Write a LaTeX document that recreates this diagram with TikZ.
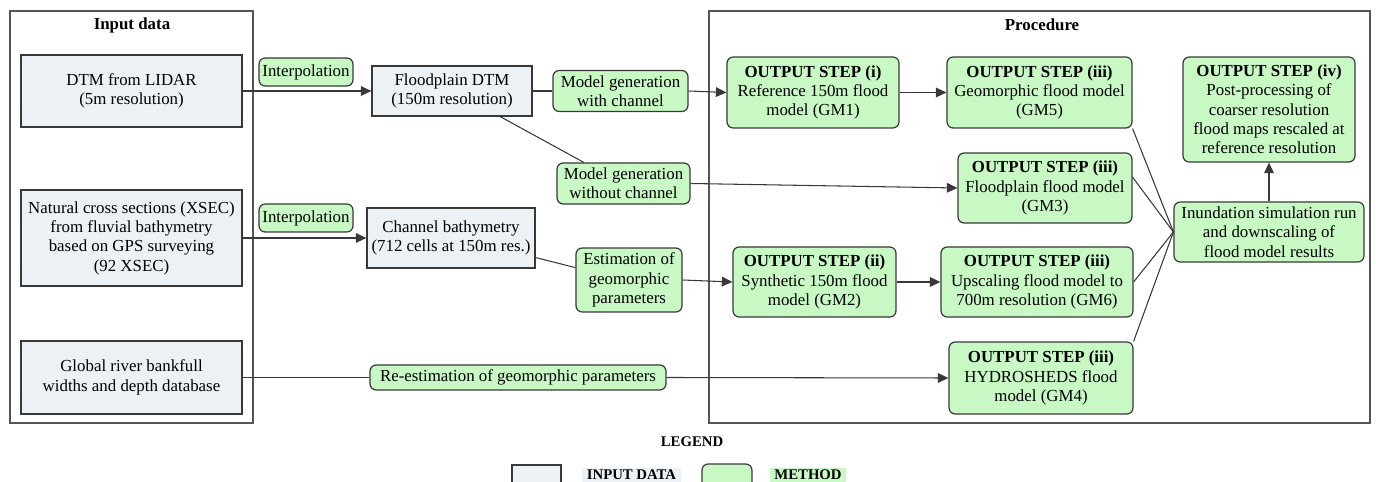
\documentclass[tikz,border=0pt]{standalone}
\usepackage{fontspec}
\setmainfont{Liberation Serif}
\usetikzlibrary{arrows.meta, positioning}
\definecolor{FLDinput}{HTML}{EBF1F5}
\definecolor{FLDmethod}{HTML}{C8F8C4}
\definecolor{FLDline}{HTML}{383838}
\definecolor{FLDframe}{HTML}{555555}

\begin{document}
\begin{tikzpicture}[x=0.02cm, y=-0.02cm,
   font=\fontsize{9.6}{11}\selectfont,
   inbox/.style={draw=FLDline, fill=FLDinput, line width=0.7pt, align=center, inner sep=1pt},
   method/.style={draw=FLDline, fill=FLDmethod, line width=0.7pt, rounded corners=3.5pt, align=center, inner sep=1pt},
   link/.style={draw=FLDline, line width=0.6pt},
   flow/.style={link, -{Triangle[length=6pt, width=5.5pt]}},
   frame/.style={draw=FLDframe, line width=0.8pt},
   title/.style={font=\fontsize{9.6}{11}\selectfont\bfseries},
   legendtxt/.style={font=\fontsize{8.4}{10}\selectfont\bfseries, inner xsep=2.5pt, inner ysep=1pt}]
      \useasboundingbox (0,0) rectangle (1376,482);
      % Frames
      \draw[frame] (10,11) rectangle (253,423);
      \draw[frame] (709,11) rectangle (1370,423);
      \node[title] (intitle) at (132,25) {Input data};
      \node[title] (proctitle) at (1042,25) {Procedure};
      % Input data
      \node[inbox, minimum width=4.42cm, minimum height=1.44cm] (dtm) at (131.5,91)
         {DTM from LIDAR\\(5m resolution)};
      \node[inbox, minimum width=4.42cm, minimum height=1.92cm] (xsec) at (131.5,238)
         {Natural cross sections (XSEC)\\from fluvial bathymetry\\based on GPS surveying\\(92 XSEC)};
      \node[inbox, minimum width=4.42cm, minimum height=1.46cm] (glob) at (131.5,377.5)
         {Global river bankfull\\widths and depth database};
      % Intermediate data
      \node[inbox, minimum width=3.2cm, minimum height=1.0cm] (fpdtm) at (452,91)
         {Floodplain DTM\\(150m resolution)};
      \node[inbox, minimum width=3.36cm, minimum height=1.2cm] (chbath) at (451,238)
         {Channel bathymetry\\(712 cells at 150m res.)};
      % Methods
      \node[method, minimum width=1.88cm, minimum height=0.56cm] (interpa) at (306,72) {Interpolation};
      \node[method, minimum width=1.88cm, minimum height=0.56cm] (interpb) at (306,218) {Interpolation};
      \node[method, minimum width=2.7cm, minimum height=0.82cm] (mgwith) at (620.5,91)
         {Model generation\\with channel};
      \node[method, minimum width=2.66cm, minimum height=0.82cm] (mgwithout) at (623.5,183.5)
         {Model generation\\without channel};
      \node[method, minimum width=2.12cm, minimum height=1.28cm] (estim) at (629,280)
         {Estimation of\\geomorphic\\parameters};
      \node[method, minimum width=5.92cm, minimum height=0.5cm] (reest) at (518,377.5)
         {Re-estimation of geomorphic parameters};
      % Output steps
      \node[method, minimum width=3.44cm, minimum height=1.42cm] (gmone) at (813,92.5)
         {\textbf{OUTPUT STEP (i)}\\Reference 150m flood\\model (GM1)};
      \node[method, minimum width=3.26cm, minimum height=1.4cm] (gmtwo) at (814.5,282)
         {\textbf{OUTPUT STEP (ii)}\\Synthetic 150m flood\\model (GM2)};
      \node[method, minimum width=3.7cm, minimum height=1.42cm] (gmfive) at (1039.5,92.5)
         {\textbf{OUTPUT STEP (iii)}\\Geomorphic flood model\\(GM5)};
      \node[method, minimum width=3.48cm, minimum height=1.4cm] (gmthree) at (1045,188)
         {\textbf{OUTPUT STEP (iii)}\\Floodplain flood model\\(GM3)};
      \node[method, minimum width=3.84cm, minimum height=1.4cm] (gmsix) at (1037,282)
         {\textbf{OUTPUT STEP (iii)}\\Upscaling flood model to\\700m resolution (GM6)};
      \node[method, minimum width=3.68cm, minimum height=1.44cm] (gmfour) at (1041,378)
         {\textbf{OUTPUT STEP (iii)}\\HYDROSHEDS flood\\model (GM4)};
      \node[method, minimum width=3.44cm, minimum height=2.1cm] (post) at (1269,109.5)
         {\textbf{OUTPUT STEP (iv)}\\Post-processing of\\coarser resolution\\flood maps rescaled at\\reference resolution};
      \node[method, minimum width=3.8cm, minimum height=1.2cm] (inund) at (1269,232)
         {Inundation simulation run\\and downscaling of\\flood model results};
      % Connectors
      \draw[flow] (dtm.east) -- (fpdtm.west);
      \draw[flow] (xsec.east) -- (chbath.west);
      \draw[link] (glob.east) -- (reest.west);
      \draw[flow] (reest.east) -- (gmfour.west);
      \draw[link] (fpdtm.east) -- (mgwith.west);
      \draw[flow] (mgwith.east) -- (gmone.west);
      \draw[link] (fpdtm.-28.5) -- (mgwithout.152);
      \draw[flow] (mgwithout.east) -- (gmthree.west);
      \draw[link] (chbath.-13.4) -- (estim.167);
      \draw[flow] (estim.east) -- (gmtwo.west);
      \draw[flow] (gmone.east) -- (gmfive.west);
      \draw[flow] (gmtwo.east) -- (gmsix.west);
      \draw[link] (gmfive.south east) -- (inund.west);
      \draw[link] (gmthree.7) -- (inund.west);
      \draw[link] (gmsix.east) -- (inund.west);
      \draw[link] (gmfour.north east) -- (inund.west);
      \draw[flow] (inund.north) -- (post.south);
      % Legend
      \node[legendtxt, inner sep=0pt] (legend) at (692,442) {LEGEND};
      \node[inbox, minimum width=0.98cm, minimum height=0.7cm] (leginput) at (536.5,482.5) {};
      \node[legendtxt, fill=FLDinput] (leginputtxt) at (631.5,475) {INPUT DATA};
      \node[method, minimum width=1.0cm, minimum height=0.72cm] (legmethod) at (727,482) {};
      \node[legendtxt, fill=FLDmethod] (legmethodtxt) at (808,475) {METHOD};
\end{tikzpicture}
\end{document}
